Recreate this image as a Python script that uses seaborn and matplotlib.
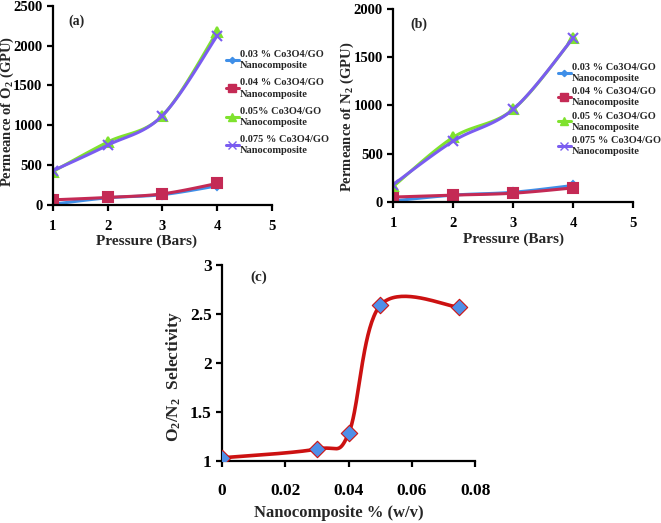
import matplotlib
matplotlib.use("Agg")
import matplotlib.pyplot as plt
from matplotlib.lines import Line2D
import numpy as np
import seaborn as sns

# pressure (bars)
pressure = [1, 2, 3, 4]

# O2 permeance (GPU), panel (a)
o2_003 = [10, 90, 130, 240]
o2_004 = [65, 95, 140, 270]
o2_005 = [420, 790, 1120, 2170]
o2_0075 = [430, 750, 1120, 2120]

# N2 permeance (GPU), panel (b)
n2_003 = [10, 70, 100, 170]
n2_004 = [50, 70, 90, 145]
n2_005 = [160, 670, 960, 1700]
n2_0075 = [180, 630, 960, 1700]

# selectivity, panel (c)
loading = [0, 0.03, 0.04, 0.05, 0.075]
selectivity = [1.03, 1.12, 1.28, 2.59, 2.57]

labels_a = ['0.03 % Co3O4/GO\nNanocomposite', '0.04 % Co3O4/GO\nNanocomposite',
            '0.05% Co3O4/GO\nNanocomposite', '0.075 % Co3O4/GO\nNanocomposite']
labels_b = ['0.03 % Co3O4/GO\nNanocomposite', '0.04 % Co3O4/GO\nNanocomposite',
            '0.05 % Co3O4/GO\nNanocomposite', '0.075 % Co3O4/GO\nNanocomposite']
colors = ['#3f8fe8', '#c42a55', '#7fe22e', '#7a5cf0']
markers = ['D', 's', '^', 'x']
msizes = [4, 6.5, 6.5, 6.5]

sns.set_style('ticks')
plt.rcParams['font.family'] = ['Liberation Serif', 'DejaVu Serif']
plt.rcParams['font.weight'] = 'bold'
plt.rcParams['mathtext.fontset'] = 'custom'
plt.rcParams['mathtext.rm'] = 'Liberation Serif:bold'
plt.rcParams['mathtext.it'] = 'Liberation Serif:bold'
plt.rcParams['mathtext.bf'] = 'Liberation Serif:bold'


def smooth(x, y, sx, sy, n=40):
    # Excel-like smoothed line: cubic Bezier (Catmull-Rom) computed in screen units
    p = np.column_stack([np.asarray(x, float) * sx, np.asarray(y, float) * sy])
    p = np.vstack([p[0], p, p[-1]])
    t = np.linspace(0, 1, n)[:, None]
    out = []
    for i in range(1, len(p) - 2):
        b0 = p[i]
        b3 = p[i + 1]
        b1 = b0 + (p[i + 1] - p[i - 1]) / 6
        b2 = b3 - (p[i + 2] - p[i]) / 6
        seg = ((1 - t) ** 3) * b0 + 3 * ((1 - t) ** 2) * t * b1 + 3 * (1 - t) * t ** 2 * b2 + t ** 3 * b3
        out.append(seg)
    out = np.vstack(out)
    return out[:, 0] / sx, out[:, 1] / sy


def style_axes(ax, fs, xpad):
    sns.despine(ax=ax)
    for s in ['left', 'bottom']:
        ax.spines[s].set_linewidth(1.6)
        ax.spines[s].set_color('black')
    ax.tick_params(axis='both', direction='out', length=4, width=1.6, labelsize=fs, colors='black')
    ax.tick_params(axis='x', pad=xpad)
    for lab in ax.get_xticklabels() + ax.get_yticklabels():
        lab.set_fontweight('bold')


fig = plt.figure(figsize=(6.61, 5.23), dpi=100)

ax_a = fig.add_axes([0.080, 0.608, 0.331, 0.381])
ax_b = fig.add_axes([0.595, 0.614, 0.363, 0.369])
ax_c = fig.add_axes([0.336, 0.119, 0.383, 0.374])


def pressure_panel(ax, series, ymax, ylabel, tag, labels, anchor, spacing, ylab_xy, xlab_xy):
    sx = 219 / 4.0
    sy = 199 / ymax
    for vals, c, m, ms in zip(series, colors, markers, msizes):
        xs, ys = smooth(pressure, vals, sx, sy)
        sns.lineplot(x=xs, y=ys, sort=False, color=c, lw=2.2, ax=ax)
        ax.plot(pressure, vals, ls='none', marker=m, color=c, ms=ms, mew=1.5)
    ax.set_xlim(1, 5)
    ax.set_ylim(0, ymax)
    ax.set_xticks([1, 2, 3, 4, 5])
    ax.set_yticks(np.arange(0, ymax + 1, 500))
    ax.set_xlabel('Pressure (Bars)', fontsize=11, fontweight='bold')
    ax.set_ylabel(ylabel, fontsize=10.5, fontweight='bold')
    ax.yaxis.set_label_coords(*ylab_xy)
    ax.xaxis.set_label_coords(*xlab_xy)
    ax.text(0.07, 0.92, tag, transform=ax.transAxes, fontsize=10, fontweight='bold', va='center')
    style_axes(ax, 10.5, 7)
    handles = [Line2D([], [], color=c, marker=m, ms=ms * 0.8, lw=2.2) for c, m, ms in zip(colors, markers, msizes)]
    leg = fig.legend(handles, labels, loc='upper left', bbox_to_anchor=anchor, frameon=False,
                     prop={'family': 'Liberation Serif', 'weight': 'bold', 'size': 7.5},
                     handlelength=1.2, handletextpad=0.1, borderpad=0, borderaxespad=0,
                     labelspacing=spacing)
    for t in leg.get_texts():
        t.set_linespacing(1.3)


pressure_panel(ax_a, [o2_003, o2_004, o2_005, o2_0075], 2500, 'Permeance of O$_2$ (GPU)', '(a)',
               labels_a, (226 / 661, 1 - 50 / 523), 0.8, (-0.168, 0.47), (0.43, -0.15))
pressure_panel(ax_b, [n2_003, n2_004, n2_005, n2_0075], 2000, 'Permeance of N$_2$ (GPU)', '(b)',
               labels_b, (558 / 661, 1 - 63 / 523), 0.4, (-0.155, 0.44), (0.50, -0.16))

# panel (c)
xs, ys = smooth(loading, selectivity, 253 / 0.08, 196 / 2.0)
sns.lineplot(x=xs, y=ys, sort=False, color='#cc1111', lw=2.6, ax=ax_c)
sns.scatterplot(x=loading, y=selectivity, marker='D', color='#4f8fe8', edgecolor='#cc1111',
                linewidth=0.8, s=70, zorder=5, ax=ax_c)
ax_c.set_xlim(0, 0.08)
ax_c.set_ylim(1, 3)
ax_c.set_xticks([0, 0.02, 0.04, 0.06, 0.08])
ax_c.set_xticklabels(['0', '0.02', '0.04', '0.06', '0.08'])
ax_c.set_yticks([1, 1.5, 2, 2.5, 3])
ax_c.set_yticklabels(['1', '1.5', '2', '2.5', '3'])
ax_c.set_xlabel('Nanocomposite % (w/v)', fontsize=12, fontweight='bold')
ax_c.set_ylabel('O$_2$/N$_2$  Selectivity', fontsize=12.5, fontweight='bold')
ax_c.yaxis.set_label_coords(-0.152, 0.43)
ax_c.xaxis.set_label_coords(0.46, -0.224)
ax_c.text(0.11, 0.94, '(c)', transform=ax_c.transAxes, fontsize=11, fontweight='bold', va='center')
style_axes(ax_c, 12.5, 12)

fig.savefig('out.png', dpi=100)
